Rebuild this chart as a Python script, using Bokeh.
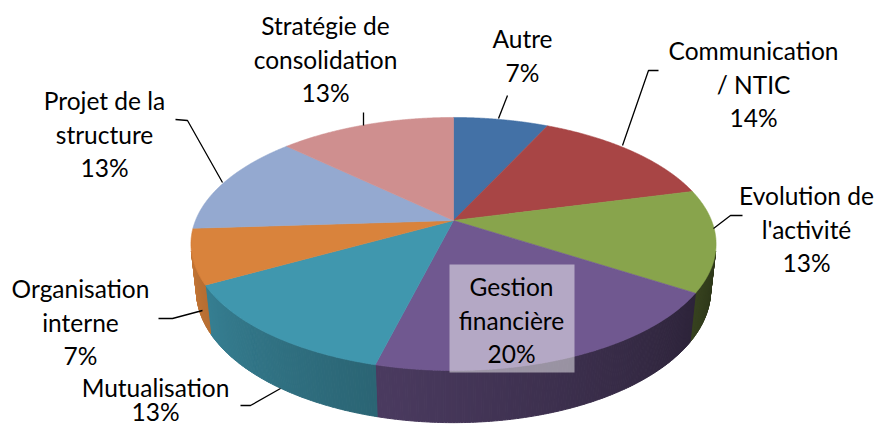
import numpy as np
from bokeh.plotting import figure
from bokeh.models import Range1d, ColumnDataSource
from bokeh.core.properties import value
from bokeh.embed import file_html
from bokeh.resources import INLINE

# ---------------- data ----------------
categories = ["Autre", "Communication / NTIC", "Evolution de l'activité",
              "Gestion financière", "Mutualisation", "Organisation interne",
              "Projet de la structure", "Stratégie de consolidation"]
shares = [7, 14, 13, 20, 13, 7, 13, 13]
colors = ["#4371a6", "#a84545", "#88a44c", "#705890",
          "#4097ae", "#d9833c", "#94a9d0", "#cf8f8f"]
label_lines = [["Autre"], ["Communication", "/ NTIC"], ["Evolution de", "l'activité"],
               ["Gestion", "financière"], ["Mutualisation"], ["Organisation", "interne"],
               ["Projet de la", "structure"], ["Stratégie de", "consolidation"]]

# ---------------- layout ----------------
CX, CY = 453.0, 220.0          # projected centre of the pie top
ELEV = np.radians(28.26)       # camera elevation
DIST = 4.744                   # camera distance (in radii)
FOC = 1224.0                   # focal length (px)
THICK = 0.205                  # pie thickness (in radii)
sa, ca = np.sin(ELEV), np.cos(ELEV)

label_pos = [(522, 38), (753, 50), (806, 195), (511, 286),
             (155, 387), (80, 288), (104, 100), (325, 25)]
line_gap = [33.5, 33.5, 33.5, 33.5, 24.0, 33.5, 33.5, 33.5]
leaders = [[(507, 95), (498, 118)],
           [(658, 70), (648, 70), (622, 145)],
           [(742, 215), (730, 215), (713, 228)],
           None,
           [(240, 405), (250, 405), (280, 388)],
           [(158, 318), (172, 318), (202, 310)],
           [(175, 119), (187, 120), (222, 182)],
           [(363, 112), (363, 125)]]
FONT = "Lato"
FONT_SIZE = "24.5px"


def project(theta, r, yw):
    th = np.radians(theta)
    X = r * np.sin(th)
    Z = -r * np.cos(th)
    yc = yw * ca - Z * sa
    depth = DIST - yw * sa - Z * ca
    return CX + FOC * X / depth, CY - FOC * yc / depth


def shade(hex_color, k):
    h = hex_color.lstrip("#")
    rgb = [int(h[i:i + 2], 16) for i in (0, 2, 4)]
    rgb = [max(0, min(255, int(round(c * k)))) for c in rgb]
    return "#%02x%02x%02x" % tuple(rgb)


total = float(sum(shares))
bounds = np.concatenate([[0.0], np.cumsum(shares) / total * 360.0])

# visible wall range
lim = np.degrees(np.arccos(-1.0 / (DIST * ca)))
vis0, vis1 = lim, 360.0 - lim

p = figure(width=874, height=425, x_range=Range1d(0, 874), y_range=Range1d(425, 0),
           output_backend="svg", toolbar_location=None, min_border=0,
           x_axis_type=None, y_axis_type=None)
p.grid.visible = False
p.outline_line_color = None
p.background_fill_color = "white"
p.border_fill_color = "white"

# ---- side walls ----
wx, wy, wc = [], [], []
for i, col in enumerate(colors):
    a0, a1 = max(bounds[i], vis0), min(bounds[i + 1], vis1)
    if a1 <= a0:
        continue
    n = max(1, int(np.ceil((a1 - a0) / 0.5)))
    edges = np.linspace(a0, a1, n + 1)
    for j in range(n):
        th = np.linspace(edges[j], edges[j + 1], 3)
        tx, ty = project(th, 1.0, 0.0)
        bx, by = project(th[::-1], 1.0, -THICK)
        wx.append(list(tx) + list(bx))
        wy.append(list(ty) + list(by))
        mid = 0.5 * (edges[j] + edges[j + 1])
        k = float(np.clip(0.39 + (mid - 120.0) * 0.0037, 0.3, 0.9))
        wc.append(shade(col, k))
p.patches(xs="xs", ys="ys", fill_color="c", line_color="c", line_width=1.0,
          source=ColumnDataSource(dict(xs=wx, ys=wy, c=wc)))

# ---- top faces ----
tx_all, ty_all = [], []
for i in range(len(shares)):
    th = np.linspace(bounds[i], bounds[i + 1], 200)
    rx, ry = project(th, 1.0, 0.0)
    tx_all.append([CX] + list(rx))
    ty_all.append([CY] + list(ry))
p.patches(xs="xs", ys="ys", fill_color="c", line_color="c", line_width=0.6,
          source=ColumnDataSource(dict(xs=tx_all, ys=ty_all, c=colors)))

# ---- leader lines ----
lx, ly = [], []
for ld in leaders:
    if ld is None:
        continue
    lx.append([q[0] for q in ld])
    ly.append([q[1] for q in ld])
p.multi_line(xs=lx, ys=ly, line_color="black", line_width=1.3)

# ---- label box for the inside label ----
p.rect(x=[511.5], y=[318], width=[125], height=[108], fill_color="white",
       fill_alpha=0.48, line_color=None)

# ---- labels ----
txt, xs_, ys_ = [], [], []
for i, lines in enumerate(label_lines):
    x0, y0 = label_pos[i]
    all_lines = lines + ["%d%%" % shares[i]]
    for k, s in enumerate(all_lines):
        txt.append(s)
        xs_.append(x0)
        ys_.append(y0 + k * line_gap[i])
p.text(x=xs_, y=ys_, text=txt, text_font=value(FONT), text_font_size=FONT_SIZE,
       text_align="center", text_baseline="middle", text_color="#000000")

open("out.html", "w").write(file_html(p, INLINE))
